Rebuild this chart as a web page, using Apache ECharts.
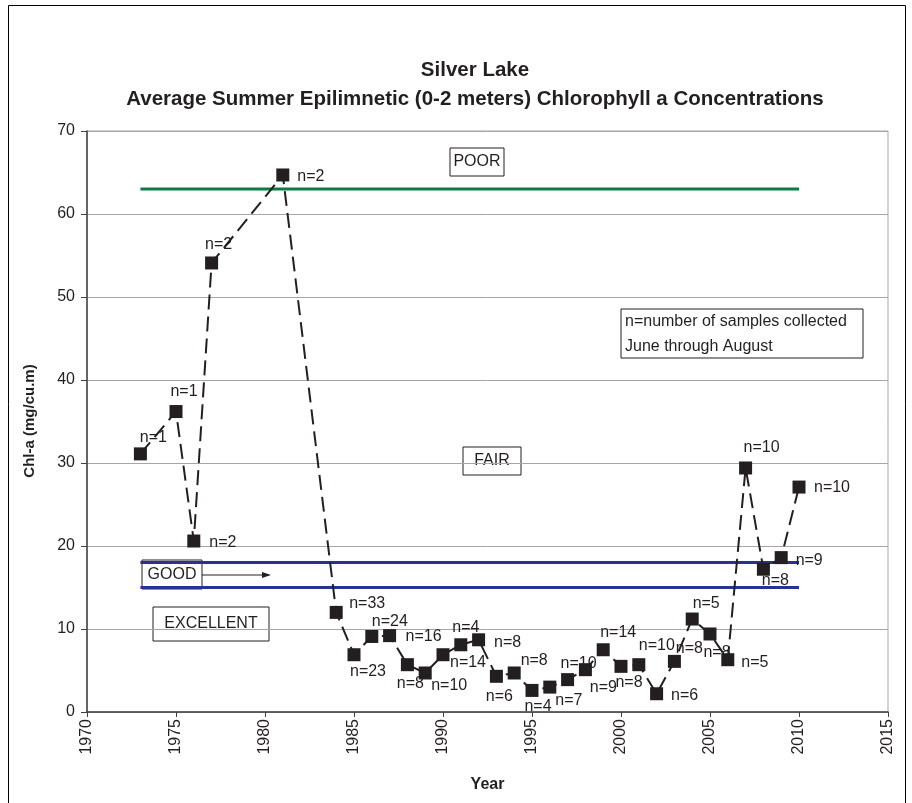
<!DOCTYPE html>
<html>
<head>
<meta charset="utf-8">
<script src="https://cdn.jsdelivr.net/npm/echarts@6/dist/echarts.min.js"></script>
<style>
  html, body { margin: 0; padding: 0; background: #fff; }
  #main { width: 912px; height: 803px; }
</style>
</head>
<body>
<div id="main"></div>
<script>
// Silver Lake chlorophyll a, summer averages
var years = [1973, 1975, 1976, 1977, 1981, 1984, 1985, 1986, 1987, 1988, 1989, 1990, 1991, 1992, 1993, 1994,
             1995, 1996, 1997, 1998, 1999, 2000, 2001, 2002, 2003, 2004, 2005, 2006, 2007, 2008, 2009, 2010];
var chla = [31.1, 36.2, 20.6, 54.1, 64.7, 12.0, 6.9, 9.1, 9.2, 5.7, 4.7, 6.9, 8.1, 8.7, 4.3, 4.7,
            2.6, 3.0, 3.9, 5.1, 7.5, 5.5, 5.7, 2.2, 6.1, 11.2, 9.4, 6.3, 29.4, 17.2, 18.6, 27.1];
var samples = [1, 1, 2, 2, 2, 33, 23, 24, 16, 8, 10, 14, 4, 8, 6, 8,
               4, 7, 10, 9, 14, 8, 10, 6, 8, 5, 8, 5, 10, 8, 9, 10];

// trophic limits, drawn from first to last sample year
var limitYears = [1973, 2010];
var poorLimit = 63;
var goodLimit = 18;
var excellentLimit = 15;

var xTicks = [1970, 1975, 1980, 1985, 1990, 1995, 2000, 2005, 2010, 2015];
var yTicks = [0, 10, 20, 30, 40, 50, 60, 70];

// where each "n=" label sits relative to its marker
var labelOffsets = [[13,-16],[8,-20],[29,2],[7,-18],[28,2],[31,-9],[14,17],[18,-15],[34,1],[3,19],[24,13],[25,8],
                    [5,-17],[29,3],[3,20],[20,-12],[6,16],[19,13],[11,-16],[18,18],[15,-17],[8,16],[18,-19],
                    [28,2],[15,-13],[14,-15],[7,19],[27,3],[16,-20],[12,11],[28,3],[33,1]];

var chart = echarts.init(document.getElementById('main'));

var points = [];
for (var i = 0; i < years.length; i++) {
    points.push({
        value: [years[i], chla[i]],
        label: { offset: labelOffsets[i] }
    });
}

function limitData(v) {
    var d = [];
    for (var k = 0; k < limitYears.length; k++) d.push([limitYears[k], v]);
    return d;
}

var font = 'Liberation Sans, Arial, sans-serif';
var ink = '#231f20';

function box(x, y, w, h, txt) {
    return {
        type: 'group', z: 100,
        children: [
            { type: 'rect', shape: { x: x, y: y, width: w, height: h },
              style: { fill: '#fff', stroke: ink, lineWidth: 1 } },
            { type: 'text', x: x + w / 2, y: y + h / 2,
              style: { text: txt, font: '16px ' + font, fill: ink, align: 'center', verticalAlign: 'middle' } }
        ]
    };
}

var option = {
    backgroundColor: '#fff',
    animation: false,
    title: {
        text: 'Silver Lake\nAverage Summer Epilimnetic (0-2 meters) Chlorophyll a Concentrations',
        left: 470, top: 51, textAlign: 'center',
        textStyle: { fontFamily: font, fontSize: 20.5, fontWeight: 'bold', color: ink, lineHeight: 29 }
    },
    grid: {
        left: 87, right: 24, top: 131, bottom: 91,
        show: true, borderColor: '#a6a6a6', borderWidth: 1
    },
    xAxis: {
        type: 'value',
        min: xTicks[0], max: xTicks[xTicks.length - 1], interval: 5,
        splitLine: { show: false },
        axisLine: { lineStyle: { color: '#404040', width: 1.5 } },
        axisTick: { length: 5, lineStyle: { color: '#404040' } },
        axisLabel: { rotate: 90, margin: 7, fontFamily: font, fontSize: 16, color: ink,
                     formatter: function (v) { return String(v); } },
        name: 'Year', nameLocation: 'middle', nameGap: 65,
        nameTextStyle: { fontFamily: font, fontSize: 16, fontWeight: 'bold', color: ink }
    },
    yAxis: {
        type: 'value',
        min: yTicks[0], max: yTicks[yTicks.length - 1], interval: 10,
        splitLine: { lineStyle: { color: '#a6a6a6', width: 1 } },
        axisLine: { show: true, lineStyle: { color: '#404040', width: 1.5 } },
        axisTick: { show: true, length: 6, lineStyle: { color: '#404040' } },
        axisLabel: { margin: 12, fontFamily: font, fontSize: 16, color: ink }
    },
    graphic: [
        { type: 'rect', z: -10, silent: true,
          shape: { x: 8.5, y: 5.5, width: 897, height: 820 },
          style: { fill: 'none', stroke: '#000', lineWidth: 1 } },
        { type: 'text', x: 30, y: 421, rotation: Math.PI / 2,
          style: { text: 'Chl-a (mg/cu.m)', font: 'bold 15px ' + font, fill: ink,
                   align: 'center', verticalAlign: 'middle' } },
        box(450, 148, 54, 28, 'POOR'),
        box(463, 447, 58, 28, 'FAIR'),
        box(142, 560, 60, 29, 'GOOD'),
        box(153, 607, 116, 34, 'EXCELLENT'),
        {
            type: 'group', z: 100,
            children: [
                { type: 'rect', shape: { x: 621, y: 309, width: 242, height: 49 },
                  style: { fill: '#fff', stroke: ink, lineWidth: 1 } },
                { type: 'text', x: 625, y: 334,
                  style: { text: 'n=number of samples collected\nJune through August', font: '16px ' + font,
                           fill: ink, align: 'left', verticalAlign: 'middle', lineHeight: 25 } }
            ]
        },
        { type: 'line', z: 100, shape: { x1: 202, y1: 575, x2: 264, y2: 575 },
          style: { stroke: ink, lineWidth: 1 } },
        { type: 'polygon', z: 100, shape: { points: [[262, 572], [271, 575], [262, 578]] },
          style: { fill: ink } }
    ],
    series: [
        {
            type: 'line', data: limitData(poorLimit), symbol: 'none', z: 1,
            lineStyle: { color: '#0b7d3e', width: 3 }
        },
        {
            type: 'line', data: limitData(goodLimit), symbol: 'none', z: 1,
            lineStyle: { color: '#2b3192', width: 3 }
        },
        {
            type: 'line', data: limitData(excellentLimit), symbol: 'none', z: 1,
            lineStyle: { color: '#2b3192', width: 3 }
        },
        {
            type: 'line', data: points, z: 5,
            symbol: 'rect', symbolSize: 13,
            itemStyle: { color: ink },
            lineStyle: { color: ink, width: 2, type: [15, 7] },
            label: {
                show: true, position: 'inside', align: 'center', verticalAlign: 'middle',
                fontFamily: font, fontSize: 16, color: ink,
                formatter: function (p) { return 'n=' + samples[p.dataIndex]; }
            }
        }
    ]
};

chart.setOption(option);
</script>
</body>
</html>
